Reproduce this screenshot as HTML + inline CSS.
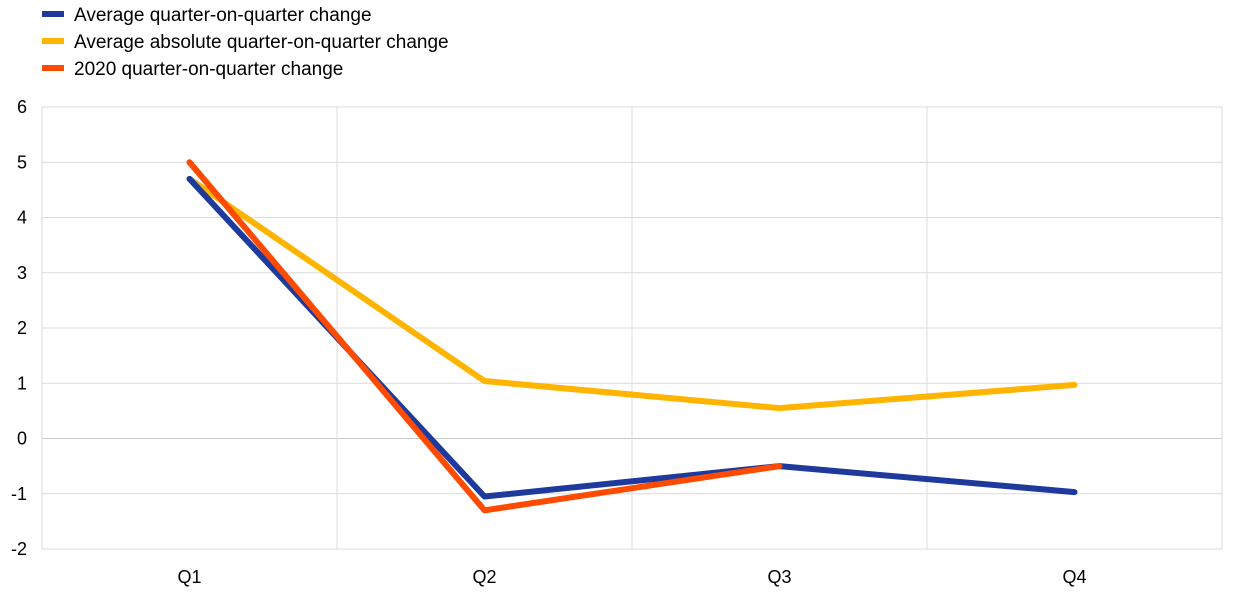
<!DOCTYPE html>
<html><head><meta charset="utf-8"><style>
body{margin:0;background:#fff;font-family:"Liberation Sans",Arial,sans-serif;}
svg text{font-family:"Liberation Sans",Arial,sans-serif;fill:#000;}
</style></head><body>
<svg id="chart" width="1240" height="595">
<g id="legend"></g>
<g id="grid"></g>
<g id="yaxis"></g>
<g id="xaxis"></g>
<g id="series"></g>
</svg>
<script>
const categories = ["Q1","Q2","Q3","Q4"];
const avgChange = [4.7,-1.05,-0.5,-0.97];
const avgAbsChange = [4.7,1.04,0.55,0.97];
const change2020 = [5.0,-1.3,-0.5,null];
const yTicks = [-2,-1,0,1,2,3,4,5,6];
const seriesNames = ["Average quarter-on-quarter change","Average absolute quarter-on-quarter change","2020 quarter-on-quarter change"];
const NS="http://www.w3.org/2000/svg";
const L=42,R=1222,T=107,B=549,yMin=-2,yMax=6;
const band=(R-L)/categories.length;
const x=i=>L+band*(i+0.5);
const y=v=>B-(v-yMin)/(yMax-yMin)*(B-T);
function mk(tag,attrs,parent){const e=document.createElementNS(NS,tag);for(const k in attrs)e.setAttribute(k,attrs[k]);parent.appendChild(e);return e;}
const grid=document.getElementById('grid'),ya=document.getElementById('yaxis'),xa=document.getElementById('xaxis'),sg=document.getElementById('series'),lg=document.getElementById('legend');
yTicks.forEach(t=>{
  const ln=mk('line',{x1:L,x2:R,y1:y(t),y2:y(t),stroke:t===0?'#c8c8c8':'#dcdcdc','stroke-width':1},grid);
  
  
  const tx=mk('text',{x:27,y:y(t)+6,'text-anchor':'end','font-size':18},ya);
  tx.textContent=t;
  
  
});
for(let i=0;i<=categories.length;i++){
  const gx=L+band*i;
  const ln=mk('line',{x1:gx,x2:gx,y1:T,y2:B,stroke:'#dcdcdc','stroke-width':1},grid);
  
  
}
categories.forEach((c,i)=>{
  const tx=mk('text',{x:x(i),y:583,'text-anchor':'middle','font-size':18},xa);
  tx.textContent=c;
  
  
});
const colors=['#1d3a9c','#ffb400','#ff4b00'];
[avgAbsChange,avgChange,change2020].forEach((arr,k)=>{
  const col=[colors[1],colors[0],colors[2]][k];
  const pts=arr.map((v,i)=>v===null?null:x(i)+','+y(v)).filter(p=>p);
  const pl=mk('polyline',{points:pts.join(' '),fill:'none',stroke:col,'stroke-width':6,'stroke-linecap':'round','stroke-linejoin':'round'},sg);
  
  
});
seriesNames.forEach((n,i)=>{
  const yy=14+27*i;
  const ln=mk('line',{x1:42,x2:64,y1:yy,y2:yy,stroke:colors[i],'stroke-width':6},lg);
  
  
  const tx=mk('text',{x:74,y:yy+7,'font-size':19},lg);
  tx.textContent=n;
  
  
});
</script>
</body></html>
